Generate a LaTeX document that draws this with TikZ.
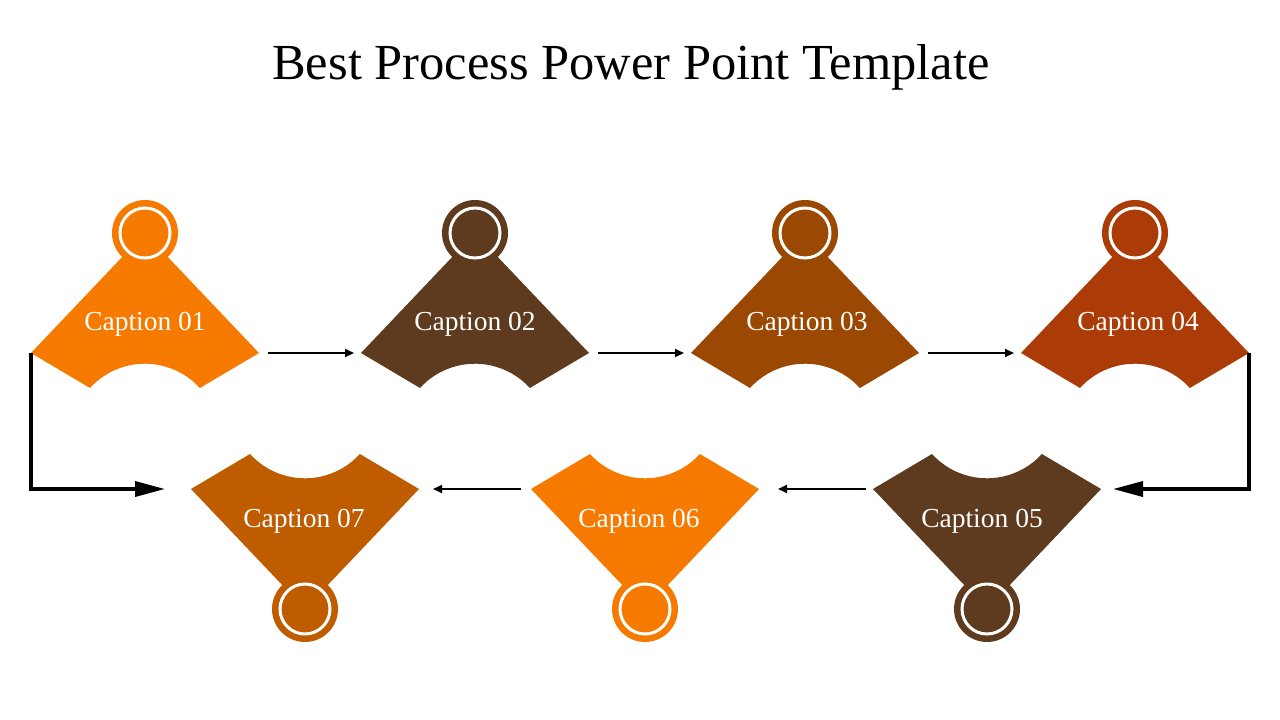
\documentclass[tikz,border=0pt]{standalone}
\usepackage{fontspec}
\setmainfont{Liberation Serif}
\usetikzlibrary{arrows.meta}
\definecolor{cOrange}{HTML}{F77A00}
\definecolor{cBrown}{HTML}{5E3B1E}
\definecolor{cRust}{HTML}{9B4802}
\definecolor{cRed}{HTML}{AC3C07}
\definecolor{cAmber}{HTML}{BF5C00}
\tikzset{
  badge/.style={circle, fill=#1, minimum size=66pt, inner sep=0pt,
    path picture={\draw[white, line width=3pt] (path picture bounding box.center) circle (25pt);}},
  captext/.style={text=white, font=\fontsize{27.5}{27.5}\selectfont, inner sep=0pt, anchor=base},
  titletext/.style={text=black, font=\fontsize{50.5}{50.5}\selectfont, inner sep=0pt, anchor=base},
  thinarrow/.style={-{Triangle[length=9pt,width=8pt]}, line width=1.8pt, black},
  bigarrow/.style={-{Triangle[length=30pt,width=15pt]}, line width=3.5pt, black}
}
\newcommand\fanshape[5]{%
  \begin{scope}[shift={(#1,#2)}, yscale=#4]
    \fill[#3] (0,0) -- (-114,120) -- (-55,155)
      arc[start angle=222.3, end angle=317.7, radius=74.3] -- (114,120) -- cycle;
    \coordinate (#5L) at (-114,120);
    \coordinate (#5R) at (114,120);
  \end{scope}}
\begin{document}
\begin{tikzpicture}[x=1pt,y=-1pt]
  \useasboundingbox (0,0) rectangle (1280,720);
  \node[titletext] (title) at (631,79) {Best Process Power Point Template};
  % top row
  \fanshape{145}{233}{cOrange}{1}{s1}
  \fanshape{475}{233}{cBrown}{1}{s2}
  \fanshape{805}{233}{cRust}{1}{s3}
  \fanshape{1135}{233}{cRed}{1}{s4}
  % bottom row
  \fanshape{987}{609}{cBrown}{-1}{s5}
  \fanshape{645}{609}{cOrange}{-1}{s6}
  \fanshape{305}{609}{cAmber}{-1}{s7}
  % badges
  \node[badge=cOrange] (b1) at (145,233) {};
  \node[badge=cBrown] (b2) at (475,233) {};
  \node[badge=cRust] (b3) at (805,233) {};
  \node[badge=cRed] (b4) at (1135,233) {};
  \node[badge=cBrown] (b5) at (987,609) {};
  \node[badge=cOrange] (b6) at (645,609) {};
  \node[badge=cAmber] (b7) at (305,609) {};
  % captions
  \node[captext] (t1) at (145,330) {Caption 01};
  \node[captext] (t2) at (475,330) {Caption 02};
  \node[captext] (t3) at (807,330) {Caption 03};
  \node[captext] (t4) at (1138,330) {Caption 04};
  \node[captext] (t5) at (982,527) {Caption 05};
  \node[captext] (t6) at (639,527) {Caption 06};
  \node[captext] (t7) at (304,527) {Caption 07};
  % arrows
  \draw[thinarrow, shorten <=9pt, shorten >=7pt] (s1R) -- (s2L);
  \draw[thinarrow, shorten <=9pt, shorten >=7pt] (s2R) -- (s3L);
  \draw[thinarrow, shorten <=9pt, shorten >=7pt] (s3R) -- (s4L);
  \draw[thinarrow, shorten <=7pt, shorten >=19pt] (s5L) -- (s6R);
  \draw[thinarrow, shorten <=10pt, shorten >=14pt] (s6L) -- (s7R);
  \draw[bigarrow, shorten >=26pt] (s1L) |- (s7L);
  \draw[bigarrow, shorten >=12pt] (s4R) |- (s5R);
\end{tikzpicture}
\end{document}
